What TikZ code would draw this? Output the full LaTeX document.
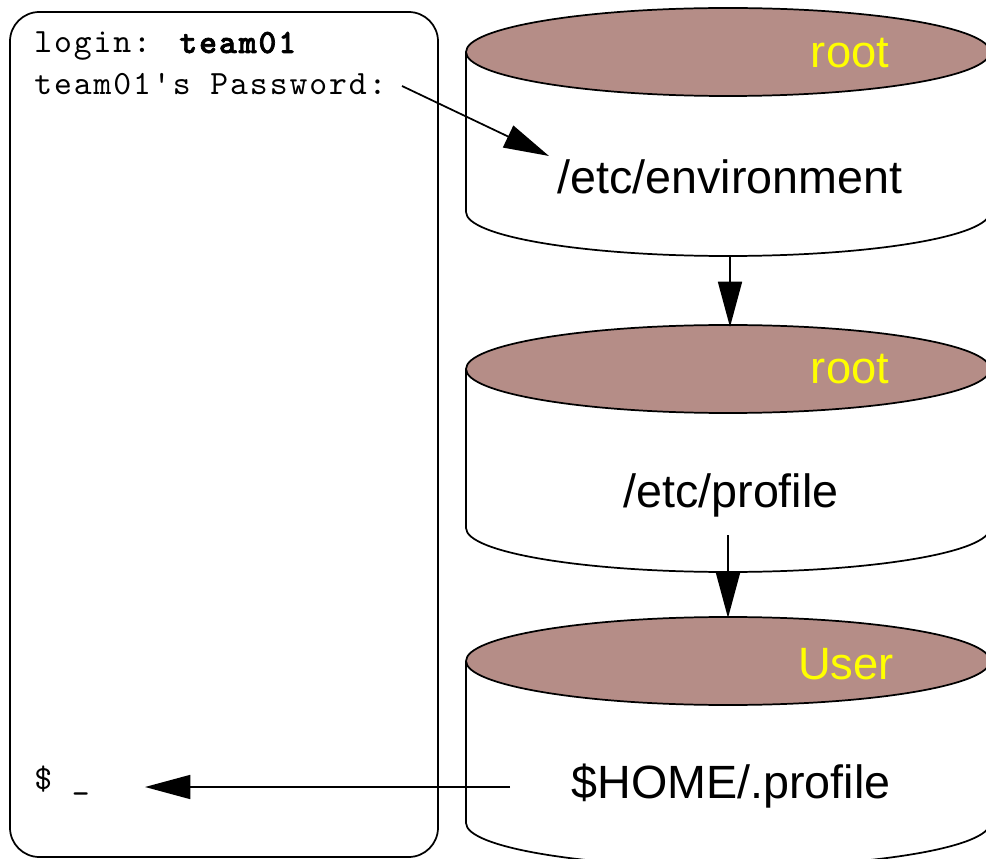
\documentclass[tikz,border=0pt]{standalone}
\usepackage{fontspec}
\newfontfamily\arialf{Liberation Sans}
\newfontfamily\courf{lmmono10-regular.otf}[BoldFont=lmmonolt10-bold.otf,BoldFeatures={FakeBold=2},LetterSpace=5.7]
\usetikzlibrary{arrows.meta}
\definecolor{cyltop}{RGB}{181,141,135}
\definecolor{lblyellow}{RGB}{255,255,0}
\tikzset{
  line/.style={line width=1.3pt},
  arr/.style={line width=1.3pt,-{Triangle[length=34pt,width=18pt]}},
  mono/.style={inner sep=0pt,anchor=base west,font=\courf\fontsize{25.5pt}{30pt}\selectfont},
  lbl/.style={inner sep=0pt,anchor=base,font=\arialf\fontsize{35pt}{40pt}\selectfont},
  owner/.style={inner sep=0pt,anchor=base,text=lblyellow,font=\arialf\fontsize{34pt}{40pt}\selectfont}
}
\newcommand{\mycyl}[2]{%
  \draw[line,fill=white] (466,#1) -- (466,#2) arc[start angle=180,end angle=0,x radius=262,y radius=44] -- (990,#1);
  \draw[line,fill=cyltop] (728,#1) ellipse[x radius=262,y radius=44];
}
\begin{document}
\begin{tikzpicture}[x=0.75pt,y=-0.75pt]
\useasboundingbox (0,0) rectangle (986,859);
\clip (0,0) rectangle (986,859);
% terminal
\draw[line,rounded corners=22pt] (10,12) rectangle (438,857);
\node[mono] (t1) at (34,53) {login: \textbf{team01}};
\node[mono] (t2) at (34,95) {team01's Password:};
\node[mono] (t3) at (34,789) {\$ \_};
% cylinders
\mycyl{52}{212}
\mycyl{369}{528}
\mycyl{661}{823}
\node[owner] (r1) at (850,68) {root};
\node[owner] (r2) at (850,384) {root};
\node[owner] (u3) at (846,679) {User};
\node[lbl] (env) at (730,194) {/etc/environment};
\node[lbl] (prof) at (731,508) {/etc/profile};
\node[lbl] (home) at (731,798) {\$HOME/.profile};
% connector ends
\coordinate (pwend) at (402,86);
\coordinate (envin) at (549,156);
\coordinate (c1b) at (730,256);
\coordinate (c2t) at (730,327);
\coordinate (c2b) at (728,535);
\coordinate (c3t) at (728,618);
\coordinate (homeout) at (510,787);
\coordinate (prompt) at (145,787);
\draw[arr] (pwend) -- (envin);
\draw[arr] (c1b) -- (c2t);
\draw[arr] (c2b) -- (c3t);
\draw[arr] (homeout) -- (prompt);
\end{tikzpicture}
\end{document}
